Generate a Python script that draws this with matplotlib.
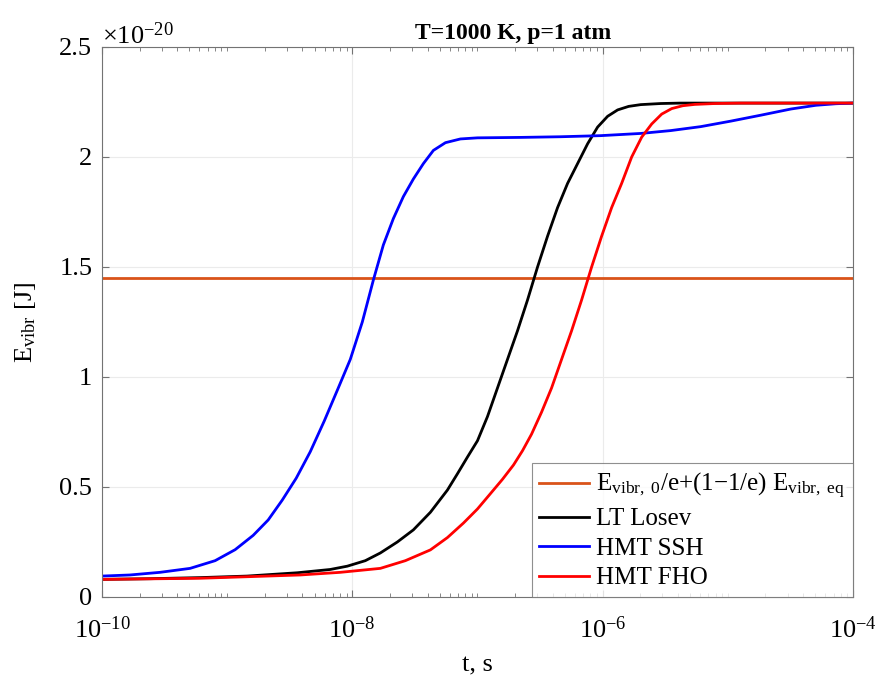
import numpy as np
import matplotlib
matplotlib.use('Agg')
import matplotlib.pyplot as plt
from matplotlib.ticker import FixedLocator, LogLocator, NullFormatter, FuncFormatter

plt.rcParams['font.family'] = 'serif'
plt.rcParams['font.serif'] = ['Liberation Serif', 'DejaVu Serif']
plt.rcParams['mathtext.fontset'] = 'custom'
plt.rcParams['mathtext.rm'] = 'Liberation Serif'
plt.rcParams['mathtext.it'] = 'Liberation Serif:italic'
plt.rcParams['mathtext.bf'] = 'Liberation Serif:bold'

# --- data (time as log10(t / s), energy in 1e-20 J) ---
# LT Losev
lg_t_losev = [-10.0, -9.616, -9.216, -8.84, -8.44, -8.176, -8.04, -7.896, -7.776,
              -7.64, -7.512, -7.376, -7.24, -7.16, -7.08, -7.0, -6.92, -6.84,
              -6.76, -6.68, -6.6, -6.52, -6.44, -6.36, -6.28, -6.2, -6.12,
              -6.04, -5.96, -5.88, -5.792, -5.696, -5.536, -5.376, -4.0]
e_losev = [0.080, 0.083, 0.088, 0.095, 0.110, 0.125, 0.140, 0.165, 0.200,
           0.250, 0.305, 0.385, 0.486, 0.56, 0.636, 0.71, 0.82, 0.95,
           1.08, 1.21, 1.35, 1.50, 1.64, 1.77, 1.88, 1.97, 2.06,
           2.136, 2.185, 2.214, 2.230, 2.238, 2.243, 2.245, 2.245]

# HMT SSH
lg_t_ssh = [-10.0, -9.776, -9.536, -9.296, -9.096, -8.936, -8.792, -8.672, -8.56,
            -8.448, -8.336, -8.224, -8.112, -8.016, -7.92, -7.832, -7.752, -7.672,
            -7.592, -7.512, -7.432, -7.352, -7.256, -7.136, -7.0, -6.656, -6.336,
            -6.016, -5.696, -5.456, -5.216, -4.976, -4.736, -4.496, -4.296, -4.136,
            -4.0]
e_ssh = [0.095, 0.100, 0.112, 0.13, 0.165, 0.215, 0.28, 0.35, 0.44,
         0.54, 0.66, 0.80, 0.95, 1.08, 1.25, 1.44, 1.60, 1.72,
         1.82, 1.90, 1.97, 2.03, 2.065, 2.082, 2.087, 2.089, 2.092,
         2.097, 2.107, 2.12, 2.138, 2.163, 2.19, 2.218, 2.235, 2.242,
         2.245]

# HMT FHO
lg_t_fho = [-10.0, -9.216, -8.416, -8.096, -7.776, -7.576, -7.376, -7.24, -7.112,
            -7.0, -6.896, -6.8, -6.712, -6.64, -6.568, -6.488, -6.408, -6.328,
            -6.248, -6.168, -6.088, -6.008, -5.928, -5.848, -5.768, -5.688, -5.608,
            -5.528, -5.448, -5.36, -5.264, -5.104, -4.896, -4.0]
e_fho = [0.080, 0.085, 0.100, 0.112, 0.130, 0.165, 0.214, 0.27, 0.336,
         0.40, 0.47, 0.535, 0.60, 0.665, 0.74, 0.84, 0.95, 1.08,
         1.21, 1.35, 1.50, 1.64, 1.77, 1.88, 2.0, 2.09, 2.15,
         2.195, 2.22, 2.233, 2.239, 2.243, 2.245, 2.245]

e_vibr0 = 0.08
e_vibr_eq = 2.245
scale = 1e-20

x_major = [1e-10, 1e-8, 1e-6, 1e-4]
y_major = [0, 0.5, 1.0, 1.5, 2.0, 2.5]

fig = plt.figure(figsize=(8.76, 6.8), dpi=100)
ax = fig.add_axes([0.1164, 0.1221, 0.8573, 0.8088])

# E_vibr,0/e + (1-1/e) E_vibr,eq
e_level = e_vibr0 / np.e + (1 - 1 / np.e) * e_vibr_eq
ax.axhline(e_level * scale, color='#D95319', lw=2,
           label=r'$\mathregular{E_{vibr,\ 0}/e{+}(1{-}1/e)\ E_{vibr,\ eq}}$')
ax.plot(10 ** np.array(lg_t_losev), np.array(e_losev) * scale,
        color='black', lw=2, label='LT Losev')
ax.plot(10 ** np.array(lg_t_ssh), np.array(e_ssh) * scale,
        color='#0000FF', lw=2, label='HMT SSH')
ax.plot(10 ** np.array(lg_t_fho), np.array(e_fho) * scale,
        color='#FF0000', lw=2, label='HMT FHO')

ax.set_xscale('log')
ax.set_xlim(1e-10, 1e-4)
ax.set_ylim(0, 2.5e-20)
ax.xaxis.set_major_locator(FixedLocator(x_major))
ax.xaxis.set_minor_locator(LogLocator(base=10, subs=np.arange(1, 10), numticks=20))
ax.xaxis.set_minor_formatter(NullFormatter())
ax.yaxis.set_major_locator(FixedLocator([v * scale for v in y_major]))
ax.yaxis.set_major_formatter(FuncFormatter(lambda v, p: f'{v / scale:g}'))

ax.text(0.0, 1.006, r'$\mathregular{\times10^{-20}}$', transform=ax.transAxes,
        ha='left', va='baseline', fontsize=19)

ax.tick_params(which='both', direction='in', top=True, right=True,
               labelsize=19, color='0.45')
ax.tick_params(axis='y', pad=7)
ax.tick_params(axis='x', pad=14)
ax.tick_params(which='major', length=5)
ax.tick_params(which='minor', length=3)
for s in ax.spines.values():
    s.set_color('0.45')
    s.set_linewidth(0.8)

ax.grid(True, which='major', color='0.92', lw=0.8)
ax.set_axisbelow(True)

ax.set_title('T=1000 K, p=1 atm', fontsize=17, fontweight='bold', pad=6, x=0.547)
ax.set_xlabel('t, s', fontsize=19, labelpad=8)
ax.set_ylabel(r'E$_{\mathregular{vibr}}$ [J]', fontsize=19, labelpad=15)

leg = ax.legend(loc='lower right', fontsize=18, borderaxespad=0, fancybox=False,
                handlelength=2.0, handletextpad=0.28, labelspacing=0.28,
                borderpad=0.3)
leg.get_frame().set_edgecolor('0.45')
leg.get_frame().set_linewidth(0.8)

plt.savefig('out.png', dpi=100)
